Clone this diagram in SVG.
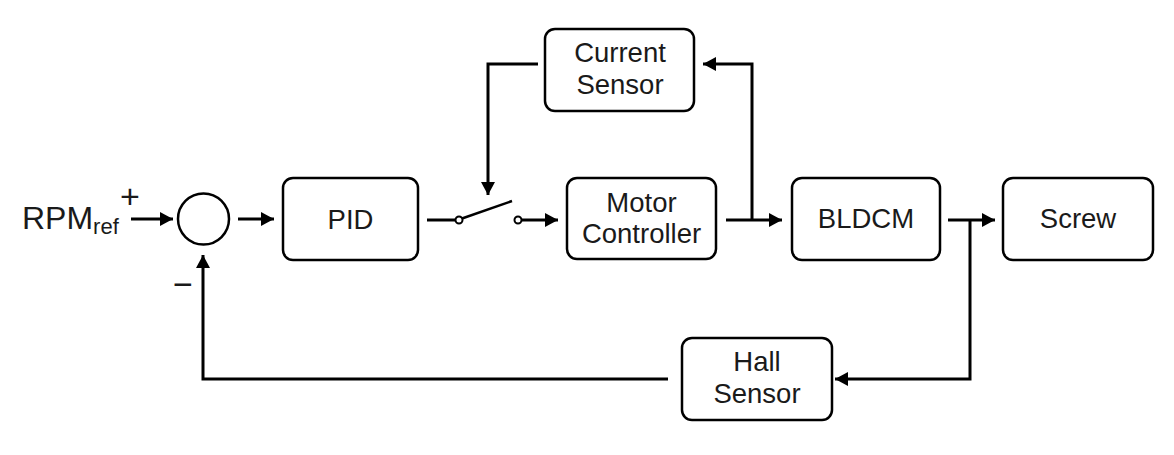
<svg xmlns="http://www.w3.org/2000/svg" width="1174" height="455" viewBox="0 0 1174 455">
<defs>
<style>
.box{fill:#fff;stroke:#000;stroke-width:2.5}
.lbl{font-family:"Liberation Sans",Arial,sans-serif;font-size:27.5px;fill:#1a1a1a;text-anchor:middle}
.ln{fill:none;stroke:#000;stroke-width:3}
.sw{fill:#fff;stroke:#000;stroke-width:2}
</style>
<marker id="ah" markerWidth="14" markerHeight="14" viewBox="0 0 14 14" refX="13" refY="7" orient="auto" markerUnits="userSpaceOnUse">
<path d="M0,0 L13,7 L0,14 Z" fill="#000"/>
</marker>
</defs>
<rect width="1174" height="455" fill="#fff"/>
<g id="input">
<text x="22" y="229" font-family="Liberation Sans,Arial,sans-serif" font-size="32" fill="#1a1a1a">RPM<tspan font-size="22" dy="5">ref</tspan></text>
<text x="130" y="208" font-family="Liberation Sans,Arial,sans-serif" font-size="34" fill="#1a1a1a" text-anchor="middle">+</text>
<text x="183" y="296" font-family="Liberation Sans,Arial,sans-serif" font-size="34" fill="#1a1a1a" text-anchor="middle">−</text>
</g>
<g id="sum"><circle cx="203.5" cy="219" r="25.5" fill="#fff" stroke="#000" stroke-width="2.5"/></g>
<g id="pid"><rect class="box" x="283" y="178" width="135" height="82" rx="10"/><text class="lbl" x="350.5" y="228.5">PID</text></g>
<g id="switch">
<circle class="sw" cx="459" cy="220" r="3.5"/>
<circle class="sw" cx="518" cy="220" r="3.5"/>
<line x1="462" y1="218.5" x2="512" y2="201" stroke="#000" stroke-width="2.5"/>
</g>
<g id="current-sensor"><rect class="box" x="545" y="29" width="149" height="82" rx="10"/><text class="lbl" x="620" y="62">Current</text><text class="lbl" x="620" y="94">Sensor</text></g>
<g id="motor-controller"><rect class="box" x="567" y="178" width="149" height="81" rx="10"/><text class="lbl" x="641.5" y="212">Motor</text><text class="lbl" x="641.5" y="243">Controller</text></g>
<g id="bldcm"><rect class="box" x="792" y="178" width="148" height="82" rx="10"/><text class="lbl" x="866" y="228">BLDCM</text></g>
<g id="screw"><rect class="box" x="1003" y="178" width="150" height="82" rx="10"/><text class="lbl" x="1078" y="228">Screw</text></g>
<g id="hall-sensor"><rect class="box" x="682" y="338" width="150" height="82" rx="10"/><text class="lbl" x="757" y="371">Hall</text><text class="lbl" x="757" y="403">Sensor</text></g>
<g id="connectors">
<line class="ln" x1="131" y1="219" x2="173" y2="219" marker-end="url(#ah)"/>
<line class="ln" x1="238" y1="219" x2="274" y2="219" marker-end="url(#ah)"/>
<line class="ln" x1="427" y1="220" x2="455.5" y2="220"/>
<line class="ln" x1="521.5" y1="220" x2="558" y2="220" marker-end="url(#ah)"/>
<line class="ln" x1="726" y1="220" x2="782" y2="220" marker-end="url(#ah)"/>
<polyline class="ln" points="752,220 752,64 703,64" marker-end="url(#ah)"/>
<polyline class="ln" points="538,64 488,64 488,195" marker-end="url(#ah)"/>
<line class="ln" x1="948" y1="220" x2="995" y2="220" marker-end="url(#ah)"/>
<polyline class="ln" points="970,220 970,379 835,379" marker-end="url(#ah)"/>
<polyline class="ln" points="668,379 203,379 203,255" marker-end="url(#ah)"/>
</g>
</svg>
